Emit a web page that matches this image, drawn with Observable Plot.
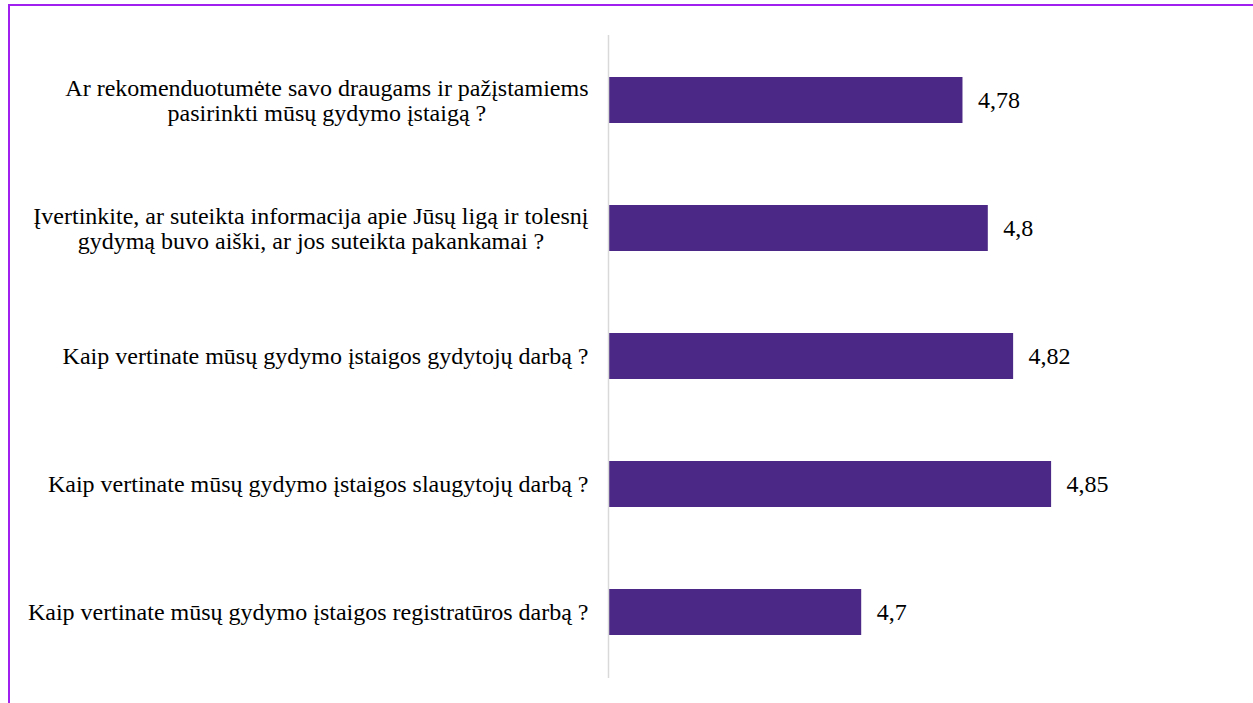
<!DOCTYPE html>
<html>
<head>
<meta charset="utf-8">
<script src="https://cdn.jsdelivr.net/npm/d3@7"></script>
<script src="https://cdn.jsdelivr.net/npm/@observablehq/plot@0.6"></script>
<style>
  html, body { margin: 0; padding: 0; background: #fff; }
  #wrap { position: relative; width: 1253px; height: 703px; overflow: hidden; }
  #frame { position: absolute; left: 8px; top: 4px; width: 1245px; height: 699px;
           border-top: 2px solid #a020f0; border-left: 2px solid #a020f0; box-sizing: border-box; }
  #chart { position: absolute; left: 0; top: 0; }
</style>
</head>
<body>
<div id="wrap"><div id="chart"></div><div id="frame"></div></div>
<script>
const questions = [
  "Ar rekomenduotumėte savo draugams ir pažįstamiems\npasirinkti mūsų gydymo įstaigą ?",
  "Įvertinkite, ar suteikta informacija apie Jūsų ligą ir tolesnį\ngydymą buvo aiški, ar jos suteikta pakankamai ?",
  "Kaip vertinate mūsų gydymo įstaigos gydytojų darbą ?",
  "Kaip vertinate mūsų gydymo įstaigos slaugytojų darbą ?",
  "Kaip vertinate mūsų gydymo įstaigos registratūros darbą ?"
];
const scores = [4.78, 4.8, 4.82, 4.85, 4.7];
const scoreLabels = ["4,78", "4,8", "4,82", "4,85", "4,7"];
const xDomain = [4.5, 5];

const data = questions.map((q, i) => ({q, v: scores[i], t: scoreLabels[i]}));

const FONT = "'Liberation Serif', 'Times New Roman', Times, 'DejaVu Serif', serif";
const LABEL_SIZE = 24;
const ctx = document.createElement("canvas").getContext("2d");
ctx.font = `${LABEL_SIZE}px ${FONT}`;
const gap = 20;

const labelMarks = data.map(d => {
  const w = d3.max(d.q.split("\n"), s => ctx.measureText(s).width);
  return Plot.text([d], {
    y: "q", text: "q", frameAnchor: "left", textAnchor: "middle",
    dx: -(gap + w / 2), lineHeight: 1.02, fontSize: LABEL_SIZE, fontFamily: FONT, fill: "#000"
  });
});

const chart = Plot.plot({
  width: 1253,
  height: 703,
  marginLeft: 608,
  marginRight: 12,
  marginTop: 35,
  marginBottom: 25,
  style: {fontFamily: FONT, background: "transparent"},
  x: {domain: xDomain, axis: null},
  y: {domain: questions, axis: null, paddingInner: 0.64, paddingOuter: 0.32},
  marks: [
    Plot.barX(data, {x1: xDomain[0], x2: "v", y: "q", fill: "#4b2885"}),
    Plot.ruleX([xDomain[0]], {stroke: "#d9d9d9", strokeWidth: 1.5}),
    Plot.text(data, {x: "v", y: "q", text: "t", dx: 15, textAnchor: "start", fontSize: LABEL_SIZE, fontFamily: FONT, fill: "#000"}),
    ...labelMarks
  ]
});
document.getElementById("chart").appendChild(chart);
</script>
</body>
</html>
